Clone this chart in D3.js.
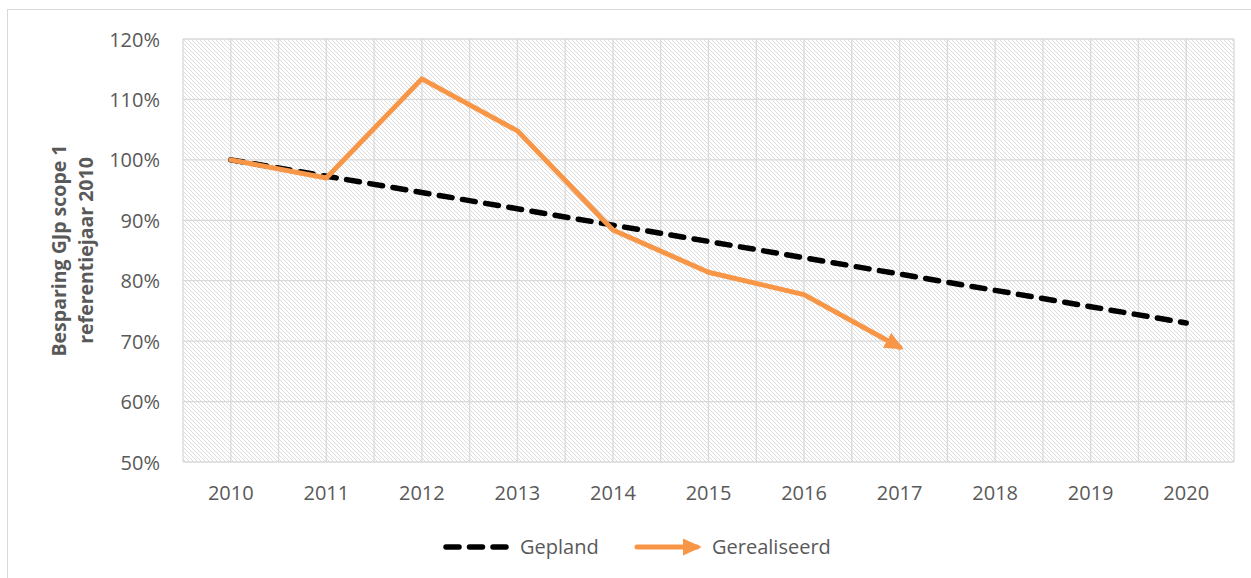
<!DOCTYPE html>
<html>
<head>
<meta charset="utf-8">
<script src="https://cdn.jsdelivr.net/npm/d3@7"></script>
<style>
  html, body { margin: 0; padding: 0; background: #fff; }
  svg { display: block; }
  text { font-family: "Open Sans", "Liberation Sans", sans-serif; }
</style>
</head>
<body>
<svg id="chart" width="1251" height="578"></svg>
<script>
// ---- data ----
const years = ["2010","2011","2012","2013","2014","2015","2016","2017","2018","2019","2020"];
const gepland = [1.000, 0.973, 0.946, 0.919, 0.892, 0.865, 0.838, 0.811, 0.784, 0.757, 0.730];
const gerealiseerdYears = ["2010","2011","2012","2013","2014","2015","2016","2017"];
const gerealiseerd = [1.000, 0.970, 1.134, 1.048, 0.884, 0.814, 0.777, 0.690];
const yTicks = [0.5, 0.6, 0.7, 0.8, 0.9, 1.0, 1.1, 1.2];
const yTitle = ["Besparing GJp scope 1", "referentiejaar 2010"];
const seriesNames = ["Gepland", "Gerealiseerd"];

// ---- layout ----
const W = 1251, H = 578;
const plot = { left: 183, right: 1234, top: 39, bottom: 462 };
const textColor = "#595959";
const gridColor = "#d9d9d9";
const orange = "#F79646";

const svg = d3.select("#chart");

// outer chart border
svg.append("rect")
  .attr("x", 7.5).attr("y", 9.5)
  .attr("width", W + 20).attr("height", H + 20)
  .attr("fill", "#fff").attr("stroke", gridColor).attr("stroke-width", 1);

const x = d3.scaleBand().domain(years).range([plot.left, plot.right]).padding(0);
const y = d3.scaleLinear().domain([0.5, 1.2]).range([plot.bottom, plot.top]);
const cx = d => x(d) + x.bandwidth() / 2;

// hatch pattern
const defs = svg.append("defs");
const pat = defs.append("pattern")
  .attr("id", "hatch").attr("patternUnits", "userSpaceOnUse")
  .attr("width", 4).attr("height", 4);
pat.append("rect").attr("width", 4).attr("height", 4).attr("fill", "#fff");
pat.append("path").attr("d", "M-1,-1 L5,5 M-1,3 L1,5 M3,-1 L5,1")
  .attr("stroke", "#dcdcdc").attr("stroke-width", 1);

// arrow marker
defs.append("marker")
  .attr("id", "arrow").attr("markerUnits", "userSpaceOnUse")
  .attr("viewBox", "0 0 20 20").attr("refX", 15).attr("refY", 10)
  .attr("markerWidth", 19).attr("markerHeight", 19)
  .attr("orient", "auto")
  .append("path").attr("d", "M0,1 L20,10 L0,19 Z").attr("fill", orange);

svg.append("rect")
  .attr("x", plot.left).attr("y", plot.top)
  .attr("width", plot.right - plot.left).attr("height", plot.bottom - plot.top)
  .attr("fill", "url(#hatch)");

// gridlines
const g = svg.append("g");
const vLines = [];
years.forEach(d => { vLines.push(x(d)); vLines.push(cx(d)); });
vLines.push(plot.right);
g.selectAll("line.v").data(vLines).join("line")
  .attr("x1", d => d).attr("x2", d => d)
  .attr("y1", plot.top).attr("y2", plot.bottom)
  .attr("stroke", gridColor).attr("stroke-width", 1.3);
g.selectAll("line.h").data(yTicks).join("line")
  .attr("x1", plot.left).attr("x2", plot.right)
  .attr("y1", d => y(d)).attr("y2", d => y(d))
  .attr("stroke", gridColor).attr("stroke-width", 1.3);

// y axis labels
const yAxis = d3.axisLeft(y).tickValues(yTicks).tickFormat(d3.format(".0%")).tickSize(0).tickPadding(0);
const ya = svg.append("g").attr("transform", `translate(${160},0)`).call(yAxis);
ya.select(".domain").remove();
ya.selectAll("text").attr("fill", textColor).style("font-size", "20px")
  .style("font-family", '"Open Sans", sans-serif').attr("dy", "0.35em");

// x axis labels
const xAxis = d3.axisBottom(x).tickSize(0).tickPadding(0);
const xa = svg.append("g").attr("transform", `translate(0,${484})`).call(xAxis);
xa.select(".domain").remove();
xa.selectAll("text").attr("fill", textColor).style("font-size", "20px")
  .style("font-family", '"Open Sans", sans-serif').attr("dy", "0.35em").attr("y", 9);

// y title
const yt = svg.append("text")
  .attr("transform", `translate(73,${(plot.top + plot.bottom) / 2}) rotate(-90)`)
  .attr("text-anchor", "middle").attr("fill", textColor)
  .style("font-size", "19.5px").style("font-weight", "bold");
yt.selectAll("tspan").data(yTitle).join("tspan")
  .attr("x", 0).attr("dy", (d, i) => i === 0 ? "-0.35em" : "1.4em")
  .text(d => d);

// lines
const line = d3.line().x(d => cx(d[0])).y(d => y(d[1]));
svg.append("path")
  .datum(years.map((d, i) => [d, gepland[i]]))
  .attr("d", line).attr("fill", "none")
  .attr("stroke", "#000").attr("stroke-width", 5.5)
  .attr("stroke-dasharray", "13,10.5").attr("stroke-linecap", "round");

svg.append("path")
  .datum(gerealiseerdYears.map((d, i) => [d, gerealiseerd[i]]))
  .attr("d", line).attr("fill", "none")
  .attr("stroke", orange).attr("stroke-width", 5)
  .attr("stroke-linecap", "round").attr("stroke-linejoin", "round")
  .attr("marker-end", "url(#arrow)");

// legend
const ly = 547;
const lg = svg.append("g");
lg.append("line").attr("x1", 446).attr("x2", 506).attr("y1", ly).attr("y2", ly)
  .attr("stroke", "#000").attr("stroke-width", 5.5)
  .attr("stroke-dasharray", "13,10.5").attr("stroke-linecap", "round");
lg.append("text").attr("x", 520).attr("y", ly).attr("dy", "0.35em")
  .attr("fill", textColor).style("font-size", "20px").text(seriesNames[0]);
lg.append("line").attr("x1", 637).attr("x2", 697).attr("y1", ly).attr("y2", ly)
  .attr("stroke", orange).attr("stroke-width", 5).attr("stroke-linecap", "round")
  .attr("marker-end", "url(#arrow)");
lg.append("text").attr("x", 712).attr("y", ly).attr("dy", "0.35em")
  .attr("fill", textColor).style("font-size", "20px").text(seriesNames[1]);
</script>
</body>
</html>
